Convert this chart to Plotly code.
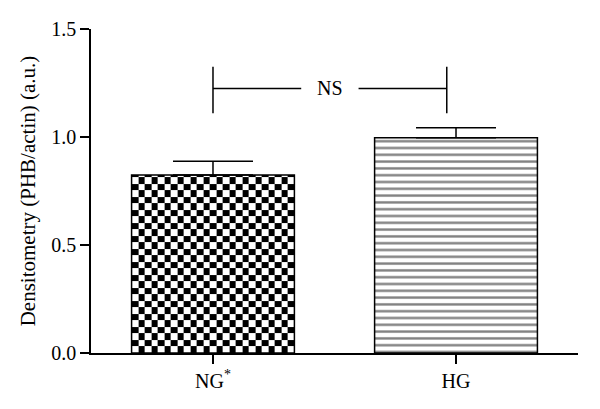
import plotly.graph_objects as go
import numpy as np

categories = ["NG<sup>*</sup>", "HG"]
means = [0.824, 0.997]
errors = [0.064, 0.046]
y_ticks = [0.0, 0.5, 1.0, 1.5]
y_tick_text = ["0.0", "0.5", "1.0", "1.5"]
bracket_x = [0.0, 0.962]
bracket_y = [1.11, 1.225, 1.325]
bracket_label = "NS"

W, H = 600, 409
ML, MR, MT, MB = 91, 22, 29, 56
plot_w = W - ML - MR
plot_h = H - MT - MB
x_range = [-0.502, 1.502]
y_range = [0, 1.5]
px_per_x = plot_w / (x_range[1] - x_range[0])
px_per_y = plot_h / (y_range[1] - y_range[0])
bar_w = 0.67
FONT = "Liberation Serif, Times New Roman, serif"

fig = go.Figure()

# checkerboard fill for NG bar
ncols = 25
cell_px = bar_w * px_per_x / ncols
nrows = int(np.ceil(means[0] * px_per_y / cell_px))
xe = np.linspace(-bar_w / 2, bar_w / 2, ncols + 1)
ye = np.minimum(np.arange(nrows + 1) * cell_px / px_per_y, means[0])
z = [[(i + j) % 2 for j in range(ncols)] for i in range(nrows)]
fig.add_trace(go.Heatmap(x=xe, y=ye, z=z, zmin=0, zmax=1,
                         colorscale=[[0, "white"], [1, "black"]],
                         showscale=False, hoverinfo="skip"))

err_style = dict(type="data", symmetric=False, color="black", thickness=1.5, width=40)

fig.add_trace(go.Bar(
    x=[0], y=[means[0]], width=bar_w,
    marker=dict(color="rgba(0,0,0,0)", line=dict(color="black", width=1.5)),
    error_y=dict(array=[errors[0]], arrayminus=[0], **err_style),
    showlegend=False,
))
fig.add_trace(go.Bar(
    x=[1], y=[means[1]], width=bar_w,
    marker=dict(color="white", line=dict(color="black", width=1.5),
                pattern=dict(shape="-", fgcolor="black", bgcolor="white",
                             size=6.8, solidity=0.35, fillmode="overlay")),
    error_y=dict(array=[errors[1]], arrayminus=[0], **err_style),
    showlegend=False,
))

# significance bracket
for bx in bracket_x:
    fig.add_shape(type="line", x0=bx, x1=bx, y0=bracket_y[0], y1=bracket_y[2],
                  line=dict(color="black", width=1.5))
mid = (bracket_x[0] + bracket_x[1]) / 2
gap = 0.118
fig.add_shape(type="line", x0=bracket_x[0], x1=mid - gap, y0=bracket_y[1], y1=bracket_y[1],
              line=dict(color="black", width=1.5))
fig.add_shape(type="line", x0=mid + gap, x1=bracket_x[1], y0=bracket_y[1], y1=bracket_y[1],
              line=dict(color="black", width=1.5))
fig.add_annotation(x=mid, y=bracket_y[1], text=bracket_label, showarrow=False,
                   font=dict(family=FONT, size=20, color="black"))

fig.update_layout(
    width=W, height=H,
    margin=dict(l=ML, r=MR, t=MT, b=MB, autoexpand=False),
    paper_bgcolor="white", plot_bgcolor="white",
    font=dict(family=FONT, size=20, color="black"),
    barmode="overlay",
    xaxis=dict(range=x_range, tickvals=[0, 1], ticktext=categories,
               showline=True, linecolor="black", linewidth=1.5,
               ticks="outside", ticklen=9, tickwidth=1.5, tickcolor="black",
               showgrid=False, zeroline=False, fixedrange=True),
    yaxis=dict(range=y_range, tickvals=y_ticks, ticktext=y_tick_text,
               showline=True, linecolor="black", linewidth=1.5,
               ticks="outside", ticklen=9, tickwidth=1.5, tickcolor="black",
               showgrid=False, zeroline=False,
               title=dict(text="Densitometry (PHB/actin) (a.u.)", standoff=10,
                          font=dict(size=21))),
)

fig.write_html("out.html", config={"displayModeBar": False},
               post_script="document.body.style.margin='0';")
